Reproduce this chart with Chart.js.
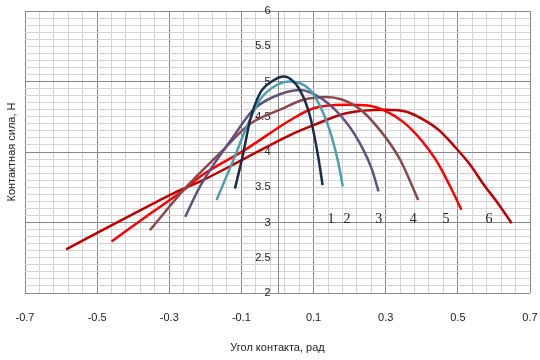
<!DOCTYPE html>
<html>
<head>
<meta charset="utf-8">
<script src="https://cdn.jsdelivr.net/npm/chart.js@4.4.1/dist/chart.umd.min.js"></script>
<style>
  html, body { margin: 0; padding: 0; background: #fff; }
  #wrap { width: 540px; height: 360px; }
</style>
</head>
<body>
<div id="wrap"><canvas id="chart"></canvas></div>
<script>
// curve numbers written next to the ends of the curves
const curveNames = ['1', '2', '3', '4', '5', '6'];
const curveLabelX = [0.148, 0.193, 0.281, 0.376, 0.467, 0.586];
const curveLabelY = [3.04, 3.04, 3.04, 3.04, 3.04, 3.04];

// angle (rad) / force (N)
const angle1 = [-0.118, -0.095, -0.076, -0.049, -0.016, 0.018, 0.04, 0.062, 0.085, 0.099, 0.113, 0.125];
const force1 = [3.48, 3.98, 4.45, 4.83, 5.0, 5.07, 5.02, 4.88, 4.6, 4.31, 3.93, 3.53];

const angle2 = [-0.169, -0.122, -0.085, -0.049, -0.002, 0.035, 0.09, 0.127, 0.15, 0.169, 0.181];
const force2 = [3.32, 3.89, 4.36, 4.74, 4.95, 5.0, 4.88, 4.55, 4.22, 3.84, 3.51];

const angle3 = [-0.256, -0.215, -0.122, -0.067, -0.012, 0.062, 0.127, 0.192, 0.238, 0.262, 0.28];
const force3 = [3.08, 3.51, 4.22, 4.6, 4.78, 4.88, 4.74, 4.41, 4.03, 3.75, 3.44];

const angle4 = [-0.354, -0.252, -0.16, -0.076, 0.007, 0.072, 0.136, 0.22, 0.284, 0.34, 0.39];
const force4 = [2.89, 3.51, 3.98, 4.4, 4.6, 4.74, 4.78, 4.64, 4.31, 3.89, 3.32];

const angle5 = [-0.46, -0.36, -0.26, -0.215, -0.09, 0.035, 0.1, 0.19, 0.25, 0.3, 0.35, 0.4, 0.44, 0.475, 0.51];
const force5 = [2.73, 3.1, 3.46, 3.65, 4.03, 4.45, 4.62, 4.67, 4.66, 4.58, 4.42, 4.16, 3.88, 3.55, 3.18];

const angle6 = [-0.586, -0.43, -0.27, -0.215, -0.09, 0.035, 0.1, 0.19, 0.303, 0.358, 0.414, 0.45, 0.487, 0.534, 0.57, 0.61, 0.649];
const force6 = [2.62, 3.04, 3.46, 3.58, 3.91, 4.24, 4.38, 4.55, 4.6, 4.57, 4.43, 4.3, 4.1, 3.82, 3.55, 3.28, 2.99];

const xTickLabels = [-0.7, -0.5, -0.3, -0.1, 0.1, 0.3, 0.5, 0.7];
const yTickLabels = [2, 2.5, 3, 3.5, 4, 4.5, 5, 5.5, 6];

const curveColors = ['#1c2c48', '#4a9fae', '#62507e', '#8c474d', '#ff0000', '#c00000'];

const angles = [angle1, angle2, angle3, angle4, angle5, angle6];
const forces = [force1, force2, force3, force4, force5, force6];

const near = (a, b) => Math.abs(a - b) < 1e-6;
const isXMajor = v => xTickLabels.some(t => near(t, v));
const isYMajor = v => near(v, Math.round(v));

const datasets = angles.map((xs, i) => ({
	label: curveNames[i],
	data: xs.map((x, j) => ({ x: x, y: forces[i][j] })),
	showLine: true,
	borderColor: curveColors[i],
	borderWidth: 2.5,
	pointRadius: 0,
	fill: false,
	cubicInterpolationMode: 'monotone',
}));

const axisOverlay = {
	id: 'axisOverlay',
	beforeDatasetsDraw(chart) {
		const { ctx, chartArea, scales } = chart;
		const x0 = Math.round(scales.x.getPixelForValue(0)) + 0.5;
		ctx.save();
		ctx.strokeStyle = '#868686';
		ctx.lineWidth = 1;
		ctx.beginPath();
		ctx.moveTo(x0, chartArea.top);
		ctx.lineTo(x0, chartArea.bottom);
		ctx.stroke();

		ctx.fillStyle = '#222';
		ctx.font = '11px "Liberation Sans"';
		ctx.textAlign = 'right';
		ctx.textBaseline = 'middle';
		yTickLabels.forEach(v => {
			ctx.fillText(String(v), x0 - 8, scales.y.getPixelForValue(v));
		});
		ctx.restore();
	},
	afterDatasetsDraw(chart) {
		const { ctx, scales } = chart;
		ctx.save();
		ctx.fillStyle = '#222';
		ctx.font = '14px "Liberation Serif"';
		ctx.textAlign = 'center';
		ctx.textBaseline = 'middle';
		curveNames.forEach((n, i) => {
			ctx.fillText(n, scales.x.getPixelForValue(curveLabelX[i]), scales.y.getPixelForValue(curveLabelY[i]));
		});
		ctx.restore();
	},
};

const config = {
	type: 'scatter',
	data: { datasets: datasets },
	options: {
		responsive: true,
		maintainAspectRatio: false,
		animation: false,
		layout: { padding: { top: 11, right: 10, left: 0, bottom: 0 } },
		plugins: {
			legend: { display: false },
			tooltip: { enabled: false },
		},
		scales: {
			x: {
				type: 'linear',
				min: -0.7,
				max: 0.7,
				border: { display: false },
				grid: {
					drawTicks: false,
					color: c => (isXMajor(c.tick.value) ? '#8a8a8a' : '#d4d4d4'),
				},
				ticks: {
					stepSize: 0.04,
					autoSkip: false,
					maxRotation: 0,
					padding: 18,
					color: '#222',
					font: { family: 'Liberation Sans', size: 11 },
					callback: v => {
						const t = xTickLabels.find(l => near(l, v));
						return t === undefined ? '' : String(t);
					},
				},
				title: {
					display: true,
					text: 'Угол контакта, рад',
					color: '#222',
					font: { family: 'Liberation Sans', size: 11 },
					padding: { top: 0, bottom: 5 },
				},
				afterFit: s => {
					s.height = 67;
					s.paddingLeft = 0;
					s.paddingRight = 0;
				},
			},
			y: {
				type: 'linear',
				min: 2,
				max: 6,
				border: { display: false },
				grid: {
					drawTicks: false,
					color: c => (isYMajor(c.tick.value) ? '#8a8a8a' : '#d4d4d4'),
				},
				ticks: {
					stepSize: 0.1,
					autoSkip: false,
					display: false,
				},
				title: {
					display: true,
					text: 'Контактная сила, Н',
					color: '#222',
					font: { family: 'Liberation Sans', size: 11 },
					padding: { top: 5, bottom: 0 },
				},
				afterFit: s => {
					s.width = 25;
					s.paddingTop = 0;
					s.paddingBottom = 0;
				},
			},
		},
	},
	plugins: [axisOverlay],
};

new Chart(document.getElementById('chart'), config);
</script>
</body>
</html>
